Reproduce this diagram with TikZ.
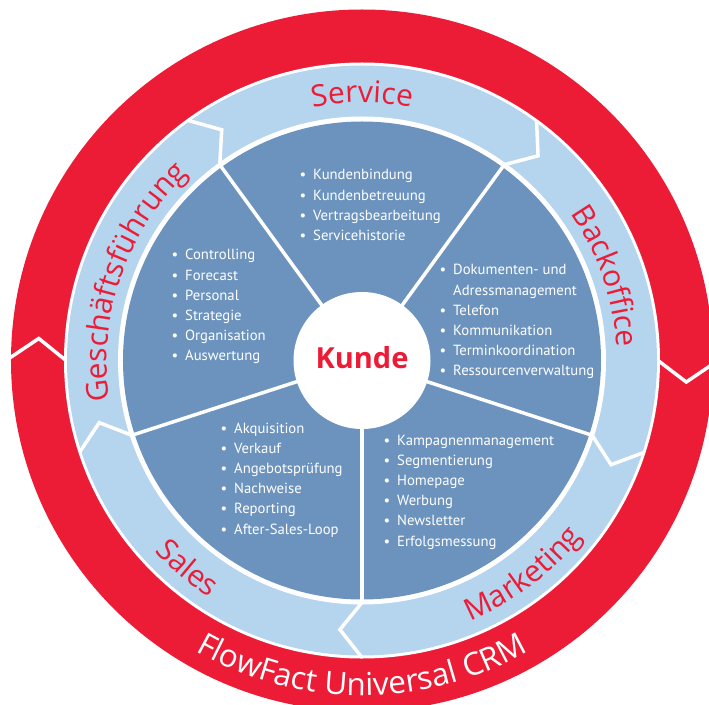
\documentclass[tikz,border=0pt]{standalone}
\usepackage{fontspec}
\setmainfont{Open Sans}
\newfontfamily\listfont{PT Sans}
\usetikzlibrary{decorations.text}
\definecolor{ffred}{RGB}{237,28,54}
\definecolor{fflight}{RGB}{181,212,238}
\definecolor{ffpie}{RGB}{108,147,190}
\newcommand{\labelfont}{\fontsize{30}{30}\selectfont}
\newcommand{\crmfont}{\fontsize{31.5}{31.5}\selectfont}
\newcommand{\myitem}{\llap{\textbullet\hspace{7pt}}}
\begin{document}
\begin{tikzpicture}[x=1pt,y=1pt,
  sep/.style={white, line width=3.5pt, line join=miter},
  lbl/.style={decorate},
  lst/.style={anchor=base west, inner sep=0pt, text=white, font=\listfont\fontsize{14.7}{20.2}\selectfont},
]
\useasboundingbox (-362,-343.5) rectangle (347,360.5);
\fill[white] (-362,-343.5) rectangle (347,360.5);
% rings
\fill[ffred] (0,0) circle[radius=351];
\fill[white] (0,0) circle[radius=298];
\fill[fflight] (0,0) circle[radius=295];
\fill[white] (0,0) circle[radius=244];
\fill[ffpie] (0,0) circle[radius=239];
% separators
\foreach \a in {126,54,-18,-90,198} {
  \draw[sep] (\a:297) -- (\a-4.7:270) -- (\a:242);
  \draw[sep] (\a:66) -- (\a:241);
}
\draw[sep] (180:356) -- (176.1:324) -- (180:296);
\draw[sep] (0:296) -- (-3.8:325) -- (0:356);
% centre
\node[circle, fill=white, minimum size=137, inner sep=0pt] (kunde) at (0,0) {};
\node[text=ffred, font=\fontsize{29}{29}\selectfont\bfseries] (kundetxt) at (0,2.5) {Kunde};
% ring labels
\path[lbl, decoration={text along path, text align=center, text={|\labelfont\color{ffred}|Service}}]
  (125:258) arc[start angle=125, end angle=55, radius=258];
\path[lbl, decoration={text along path, text align=center, text={|\labelfont\color{ffred}|Geschäftsführung}}]
  (200:255) arc[start angle=200, end angle=122, radius=255];
\path[lbl, decoration={text along path, text align=center, text={|\labelfont\color{ffred}|Backoffice}}]
  (54:255) arc[start angle=54, end angle=-16, radius=255];
\path[lbl, decoration={text along path, text align=center, text={|\labelfont\color{ffred}|Marketing}}]
  (-90:282) arc[start angle=-90, end angle=-16, radius=282];
\path[lbl, decoration={text along path, text align=center, text={|\labelfont\color{ffred}|Sales}}]
  (-165:282) arc[start angle=-165, end angle=-95, radius=282];
\path[lbl, decoration={text along path, text align=center, text={|\crmfont\color{white}|FlowFact Universal CRM}}]
  (-150:335) arc[start angle=-150, end angle=-30, radius=335];
% lists
\node[lst] (svc) at (-49,180.5) {\begin{tabular}[t]{@{}l@{}}
\myitem Kundenbindung\\ \myitem Kundenbetreuung\\ \myitem Vertragsbearbeitung\\ \myitem Servicehistorie
\end{tabular}};
\node[lst] (gf) at (-177,100.5) {\begin{tabular}[t]{@{}l@{}}
\myitem Controlling\\ \myitem Forecast\\ \myitem Personal\\ \myitem Strategie\\ \myitem Organisation\\ \myitem Auswertung
\end{tabular}};
\node[lst] (bo) at (91,85.5) {\begin{tabular}[t]{@{}l@{}}
\myitem Dokumenten- und\\ Adressmanagement\\ \myitem Telefon\\ \myitem Kommunikation\\ \myitem Terminkoordination\\ \myitem Ressourcenverwaltung
\end{tabular}};
\node[lst] (sa) at (-128,-72.5) {\begin{tabular}[t]{@{}l@{}}
\myitem Akquisition\\ \myitem Verkauf\\ \myitem Angebotsprüfung\\ \myitem Nachweise\\ \myitem Reporting\\ \myitem After-Sales-Loop
\end{tabular}};
\node[lst] (mk) at (35,-84.5) {\begin{tabular}[t]{@{}l@{}}
\myitem Kampagnenmanagement\\ \myitem Segmentierung\\ \myitem Homepage\\ \myitem Werbung\\ \myitem Newsletter\\ \myitem Erfolgsmessung
\end{tabular}};
\end{tikzpicture}
\end{document}
